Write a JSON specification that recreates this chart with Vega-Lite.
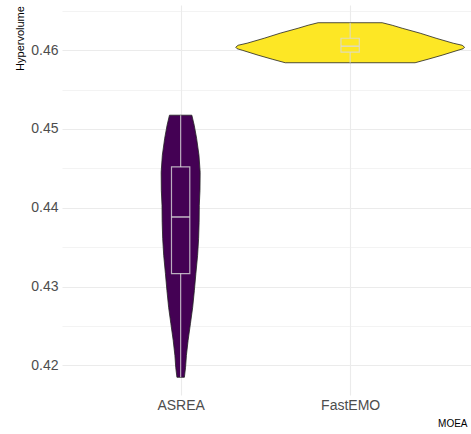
{
  "$schema": "https://vega.github.io/schema/vega-lite/v6.json",
  "width": 409,
  "height": 390,
  "autosize": {"type": "none"},
  "padding": {"left": 62, "top": 5, "right": 0, "bottom": 39},
  "background": "white",
  "config": {
    "view": {"stroke": null},
    "font": "Liberation Sans"
  },
  "datasets": {
    "violin": [
      {"MOEA": "ASREA", "hv": 0.45175, "hw": 0.066},
      {"MOEA": "ASREA", "hv": 0.45048, "hw": 0.080},
      {"MOEA": "ASREA", "hv": 0.44883, "hw": 0.094},
      {"MOEA": "ASREA", "hv": 0.44667, "hw": 0.108},
      {"MOEA": "ASREA", "hv": 0.44451, "hw": 0.115},
      {"MOEA": "ASREA", "hv": 0.44222, "hw": 0.114},
      {"MOEA": "ASREA", "hv": 0.44032, "hw": 0.110},
      {"MOEA": "ASREA", "hv": 0.43816, "hw": 0.109},
      {"MOEA": "ASREA", "hv": 0.43613, "hw": 0.106},
      {"MOEA": "ASREA", "hv": 0.43397, "hw": 0.100},
      {"MOEA": "ASREA", "hv": 0.43168, "hw": 0.090},
      {"MOEA": "ASREA", "hv": 0.42952, "hw": 0.081},
      {"MOEA": "ASREA", "hv": 0.42737, "hw": 0.071},
      {"MOEA": "ASREA", "hv": 0.42533, "hw": 0.058},
      {"MOEA": "ASREA", "hv": 0.42317, "hw": 0.044},
      {"MOEA": "ASREA", "hv": 0.42127, "hw": 0.034},
      {"MOEA": "ASREA", "hv": 0.41975, "hw": 0.029},
      {"MOEA": "ASREA", "hv": 0.41848, "hw": 0.022},
      {"MOEA": "FastEMO", "hv": 0.46349, "hw": 0.189},
      {"MOEA": "FastEMO", "hv": 0.46317, "hw": 0.248},
      {"MOEA": "FastEMO", "hv": 0.46279, "hw": 0.307},
      {"MOEA": "FastEMO", "hv": 0.46216, "hw": 0.413},
      {"MOEA": "FastEMO", "hv": 0.46152, "hw": 0.507},
      {"MOEA": "FastEMO", "hv": 0.46089, "hw": 0.608},
      {"MOEA": "FastEMO", "hv": 0.46063, "hw": 0.661},
      {"MOEA": "FastEMO", "hv": 0.46038, "hw": 0.675},
      {"MOEA": "FastEMO", "hv": 0.46019, "hw": 0.667},
      {"MOEA": "FastEMO", "hv": 0.46000, "hw": 0.637},
      {"MOEA": "FastEMO", "hv": 0.45937, "hw": 0.543},
      {"MOEA": "FastEMO", "hv": 0.45886, "hw": 0.460},
      {"MOEA": "FastEMO", "hv": 0.45841, "hw": 0.383}
    ],
    "box": [
      {"MOEA": "ASREA", "lower": 0.41848, "q1": 0.43164, "median": 0.43883, "q3": 0.44518, "upper": 0.45175},
      {"MOEA": "FastEMO", "lower": 0.45841, "q1": 0.45975, "median": 0.46051, "q3": 0.46152, "upper": 0.46349}
    ]
  },
  "layer": [
    {
      "data": {"name": "violin"},
      "transform": [
        {"calculate": "datum.MOEA === 'ASREA' ? 1 : 2", "as": "pos"},
        {"calculate": "datum.pos - datum.hw", "as": "lo"},
        {"calculate": "datum.pos + datum.hw", "as": "hi"}
      ],
      "mark": {"type": "area", "orient": "horizontal", "stroke": "#222222", "strokeWidth": 0.8, "fillOpacity": 1},
      "encoding": {
        "y": {
          "field": "hv", "type": "quantitative",
          "scale": {"domain": [0.41623, 0.46574], "nice": false, "zero": false},
          "axis": {
            "values": [0.42, 0.425, 0.43, 0.435, 0.44, 0.445, 0.45, 0.455, 0.46, 0.465],
            "labelExpr": "abs(datum.value*100 - round(datum.value*100)) < 0.01 ? format(datum.value, '.2f') : ''",
            "domain": false,
            "ticks": false,
            "grid": true,
            "gridColor": "#ebebeb",
            "gridWidth": {"condition": {"test": "abs(datum.value*100 - round(datum.value*100)) > 0.01", "value": 0.6}, "value": 1.1},
            "labelColor": "#4d4d4d",
            "labelFontSize": 14,
            "labelPadding": 4,
            "title": "Hypervolume",
            "titleFontSize": 11,
            "titleFontWeight": "normal",
            "titleColor": "#000000",
            "titleAngle": 270,
            "titleAlign": "center",
            "titleBaseline": "middle",
            "titleX": -42,
            "titleY": 33
          }
        },
        "x": {
          "field": "lo", "type": "quantitative", "stack": null,
          "scale": {"domain": [0.3, 2.713], "nice": false, "zero": false},
          "axis": {
            "values": [1, 2],
            "labelExpr": "datum.value == 1 ? 'ASREA' : 'FastEMO'",
            "domain": false,
            "ticks": false,
            "grid": true,
            "gridColor": "#ebebeb",
            "gridWidth": 1.1,
            "labelColor": "#4d4d4d",
            "labelFontSize": 14,
            "labelPadding": 3,
            "title": "MOEA",
            "titleFontSize": 10,
            "titleFontWeight": "normal",
            "titleColor": "#000000",
            "titleAlign": "right",
            "titleBaseline": "middle",
            "titleX": 405,
            "titleY": 28
          }
        },
        "x2": {"field": "hi"},
        "color": {
          "field": "MOEA", "type": "nominal",
          "scale": {"domain": ["ASREA", "FastEMO"], "range": ["#440154", "#FDE725"]},
          "legend": null
        }
      }
    },
    {
      "data": {"name": "box"},
      "transform": [
        {"calculate": "datum.MOEA === 'ASREA' ? 1 : 2", "as": "pos"}
      ],
      "mark": {"type": "rule", "color": "#d9d9d9", "opacity": 0.8, "strokeWidth": 1.2},
      "encoding": {
        "x": {"field": "pos", "type": "quantitative"},
        "y": {"field": "lower", "type": "quantitative"},
        "y2": {"field": "q1"}
      }
    },
    {
      "data": {"name": "box"},
      "transform": [
        {"calculate": "datum.MOEA === 'ASREA' ? 1 : 2", "as": "pos"}
      ],
      "mark": {"type": "rule", "color": "#d9d9d9", "opacity": 0.8, "strokeWidth": 1.2},
      "encoding": {
        "x": {"field": "pos", "type": "quantitative"},
        "y": {"field": "q3", "type": "quantitative"},
        "y2": {"field": "upper"}
      }
    },
    {
      "data": {"name": "box"},
      "transform": [
        {"calculate": "datum.MOEA === 'ASREA' ? 1 : 2", "as": "pos"},
        {"calculate": "datum.pos - 0.054", "as": "blo"},
        {"calculate": "datum.pos + 0.054", "as": "bhi"}
      ],
      "mark": {"type": "rect", "fill": null, "fillOpacity": 0, "stroke": "#d9d9d9", "strokeOpacity": 0.8, "strokeWidth": 1.2},
      "encoding": {
        "x": {"field": "blo", "type": "quantitative"},
        "x2": {"field": "bhi"},
        "y": {"field": "q1", "type": "quantitative"},
        "y2": {"field": "q3"}
      }
    },
    {
      "data": {"name": "box"},
      "transform": [
        {"calculate": "datum.MOEA === 'ASREA' ? 1 : 2", "as": "pos"},
        {"calculate": "datum.pos - 0.054", "as": "blo"},
        {"calculate": "datum.pos + 0.054", "as": "bhi"}
      ],
      "mark": {"type": "rule", "color": "#d9d9d9", "opacity": 0.8, "strokeWidth": 1.6},
      "encoding": {
        "x": {"field": "blo", "type": "quantitative"},
        "x2": {"field": "bhi"},
        "y": {"field": "median", "type": "quantitative"}
      }
    }
  ]
}
